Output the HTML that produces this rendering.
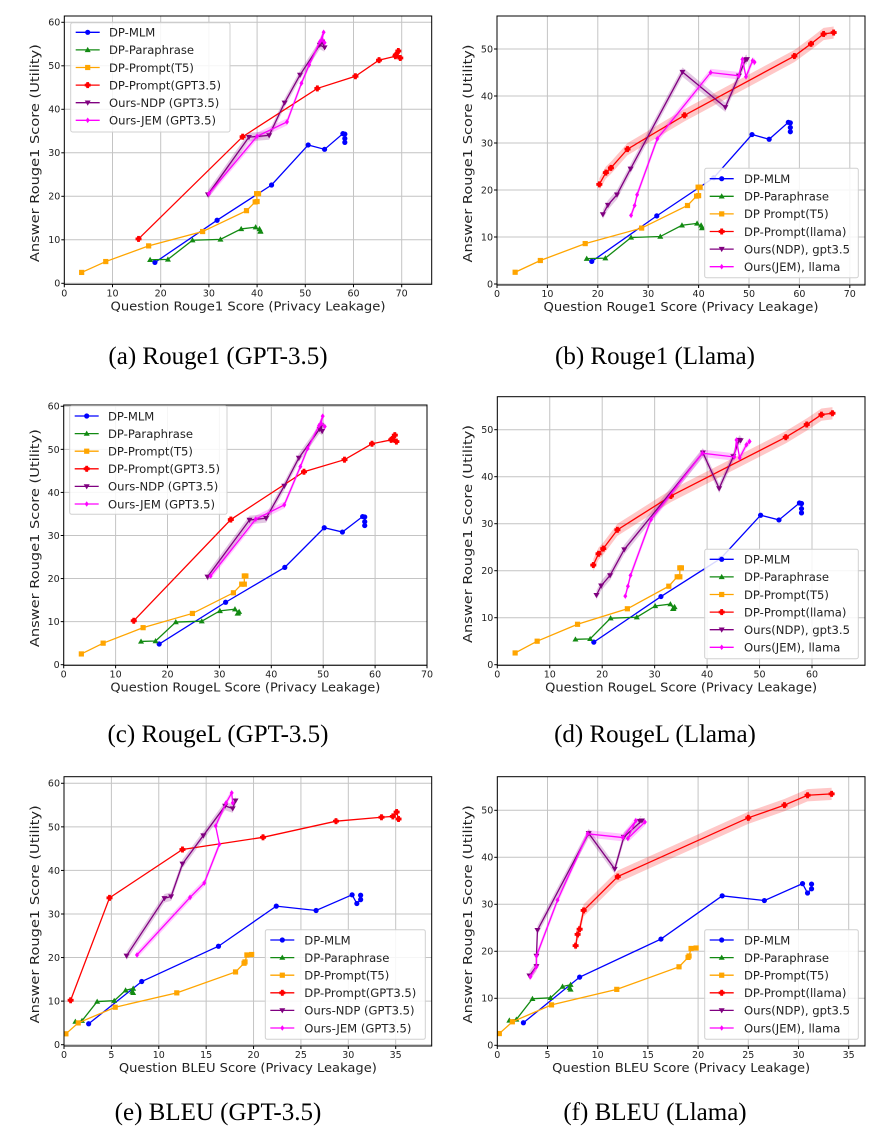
<!DOCTYPE html>
<html><head><meta charset="utf-8">
<style>
html,body{margin:0;padding:0;background:#fff;}
svg{display:block;}
</style></head>
<body>
<svg id="s" width="876" height="1141" xmlns="http://www.w3.org/2000/svg" font-family="'DejaVu Sans','Liberation Sans',sans-serif">
<text x="218" y="364" font-family="'Liberation Serif',serif" font-size="25" text-anchor="middle">(a) Rouge1 (GPT-3.5)</text>
<text x="655" y="364" font-family="'Liberation Serif',serif" font-size="25" text-anchor="middle">(b) Rouge1 (Llama)</text>
<text x="218" y="742" font-family="'Liberation Serif',serif" font-size="25" text-anchor="middle">(c) RougeL (GPT-3.5)</text>
<text x="655" y="742" font-family="'Liberation Serif',serif" font-size="25" text-anchor="middle">(d) RougeL (Llama)</text>
<text x="218" y="1120" font-family="'Liberation Serif',serif" font-size="25" text-anchor="middle">(e) BLEU (GPT-3.5)</text>
<text x="655" y="1120" font-family="'Liberation Serif',serif" font-size="25" text-anchor="middle">(f) BLEU (Llama)</text>
</svg>
<script>
var NS="http://www.w3.org/2000/svg",S=document.getElementById('s');
function el(t,a,p){var e=document.createElementNS(NS,t);for(var k in a)e.setAttribute(k,a[k]);(p||S).appendChild(e);return e;}
var C={b:'#0000ff',g:'#128a12',o:'#ffa500',r:'#ff0000',p:'#800080',m:'#ff00ff'};
function marker(g,type,x,y,c){
 var r=2.6;
 if(type=='o')el('circle',{cx:x,cy:y,r:r,fill:c},g);
 else if(type=='^')el('polygon',{points:(x)+','+(y-3)+' '+(x-3)+','+(y+2.2)+' '+(x+3)+','+(y+2.2),fill:c},g);
 else if(type=='v')el('polygon',{points:(x)+','+(y+3)+' '+(x-3)+','+(y-2.2)+' '+(x+3)+','+(y-2.2),fill:c},g);
 else if(type=='s')el('rect',{x:x-2.6,y:y-2.6,width:5.2,height:5.2,fill:c},g);
 else if(type=='P'){el('rect',{x:x-3,y:y-1.4,width:6,height:2.8,fill:c},g);el('rect',{x:x-1.4,y:y-3,width:2.8,height:6,fill:c},g);el('circle',{cx:x,cy:y,r:2.3,fill:c},g);}
 else if(type=='*')el('polygon',{points:x+','+(y-2.8)+' '+(x+2)+','+y+' '+x+','+(y+2.8)+' '+(x-2)+','+y,fill:c},g);
}
var id=0;
function panel(P){
 id++;
 var L=P.box[0],T=P.box[1],R=P.box[2],B=P.box[3];
 function X(v){return P.x0+v*P.sx;} function Y(v){return P.y0-v*P.sy;}
 var cp=el('clipPath',{id:'c'+id});el('rect',{x:L,y:T,width:R-L,height:B-T},cp);
 var g=el('g',{'clip-path':'url(#c'+id+')'});
 P.xt.forEach(function(v){el('line',{x1:X(v),x2:X(v),y1:T,y2:B,stroke:'#c4c4c4','stroke-width':1},g);});
 P.yt.forEach(function(v){el('line',{x1:L,x2:R,y1:Y(v),y2:Y(v),stroke:'#c4c4c4','stroke-width':1},g);});
 P.series.forEach(function(s){
  if(s.band){
   var up=s.d.map(function(p){return X(p[0])+','+Y(p[1]+s.band);});
   var dn=s.d.slice().reverse().map(function(p){return X(p[0])+','+Y(p[1]-s.band);});
   el('polygon',{points:up.concat(dn).join(' '),fill:s.c,'fill-opacity':0.22},g);
  }
 });
 P.series.forEach(function(s){
  el('polyline',{points:s.d.map(function(p){return X(p[0])+','+Y(p[1]);}).join(' '),fill:'none',stroke:s.c,'stroke-width':1.3},g);
  s.d.forEach(function(p){marker(g,s.m,X(p[0]),Y(p[1]),s.c);});
 });
 el('rect',{x:L,y:T,width:R-L,height:B-T,fill:'none',stroke:'#000','stroke-width':1});
 P.xt.forEach(function(v){el('line',{x1:X(v),x2:X(v),y1:B,y2:B+3,stroke:'#000'});var t=el('text',{x:X(v),y:B+12,'font-size':9.5,'text-anchor':'middle',fill:'#222'});t.textContent=v;});
 P.yt.forEach(function(v){el('line',{x1:L-3,x2:L,y1:Y(v),y2:Y(v),stroke:'#000'});var t=el('text',{x:L-4,y:Y(v)+3.4,'font-size':9.5,'text-anchor':'end',fill:'#222'});t.textContent=v;});
 var t=el('text',{x:(L+R)/2,y:B+26,'font-size':12.5,'text-anchor':'middle',fill:'#222',textLength:P.xlw,lengthAdjust:'spacingAndGlyphs'});t.textContent=P.xl;
 var cy=(T+B)/2+3,cx=P.ylx;
 t=el('text',{x:cx,y:cy,'font-size':12.5,'text-anchor':'middle',fill:'#222',transform:'rotate(-90 '+cx+' '+(cy)+')',textLength:218,lengthAdjust:'spacingAndGlyphs'});t.textContent='Answer Rouge1 Score (Utility)';
 var lg=P.lg;
 el('rect',{x:lg[0],y:lg[1],width:lg[2],height:lg[3],fill:'#fff','fill-opacity':0.85,stroke:'#d0d0d0',rx:2});
 P.series.forEach(function(s,i){
  var yy=lg[4]+i*17.6,lx=lg[0]+5;
  el('line',{x1:lx,x2:lx+24,y1:yy,y2:yy,stroke:s.c,'stroke-width':1.3});
  marker(S,s.m,lx+12,yy,s.c);
  var tt=el('text',{x:lg[5],y:yy+4.3,'font-size':11.6,fill:'#222'});tt.textContent=s.n;
 });
}
var MLM_R=[[18.8,4.8],[31.7,14.5],[43,22.6],[50.6,31.8],[54,30.8],[57.8,34.4],[58.2,34.3],[58.2,33.3],[58.2,32.4]];
var PARA_R=[[17.8,5.4],[21.5,5.5],[26.6,9.9],[32.4,10.1],[36.7,12.5],[39.7,12.9],[40.7,12],[40.5,12.5],[40.7,11.9]];
var T5_R=[[3.6,2.5],[8.6,5],[17.5,8.6],[28.7,11.9],[37.8,16.7],[39.6,18.7],[40,18.8],[39.9,20.6],[40.3,20.6]];
var MLM_L=[[18.4,4.8],[31.2,14.5],[42.6,22.6],[50.2,31.8],[53.7,30.8],[57.6,34.4],[58,34.3],[58,33.2],[58,32.3]];
var PARA_L=[[14.9,5.4],[17.7,5.5],[21.6,9.9],[26.6,10.1],[30.1,12.5],[33,12.9],[33.6,12],[33.8,12.3],[33.5,11.9]];
var T5_L=[[3.4,2.5],[7.6,5],[15.3,8.6],[24.8,11.9],[32.7,16.7],[34.3,18.7],[34.8,18.7],[34.8,20.6],[35.1,20.6]];
var MLM_B=[[2.6,4.8],[8.2,14.5],[16.3,22.6],[22.4,31.8],[26.6,30.8],[30.4,34.4],[30.9,32.4],[31.3,33.3],[31.3,34.3]];
var PARA_B=[[1.2,5.3],[1.9,5.5],[3.5,9.9],[5.3,10.1],[6.5,12.5],[7.3,12.9],[7.3,11.9],[7.2,12.2]];
var T5_B=[[0.2,2.5],[1.5,5],[5.4,8.6],[11.9,11.9],[18.1,16.7],[19,18.7],[19.1,19],[19.3,20.6],[19.8,20.7]];
function std(mlm,para,t5,red,ndp,jem,llama){
 return [
 {n:'DP-MLM',c:C.b,m:'o',d:mlm},
 {n:'DP-Paraphrase',c:C.g,m:'^',d:para},
 {n:llama?'DP Prompt(T5)':'DP-Prompt(T5)',c:C.o,m:'s',d:t5},
 {n:llama?'DP-Prompt(llama)':'DP-Prompt(GPT3.5)',c:C.r,m:'P',d:red,band:llama?1.3:0},
 {n:llama?'Ours(NDP), gpt3.5':'Ours-NDP (GPT3.5)',c:C.p,m:'v',d:ndp,band:1},
 {n:llama?'Ours(JEM), llama':'Ours-JEM (GPT3.5)',c:C.m,m:'*',d:jem,band:0.8}];
}
var r7=[0,10,20,30,40,50,60,70],y6=[0,10,20,30,40,50,60],y5=[0,10,20,30,40,50];
panel({box:[64.3,16,431.7,284.3],x0:64.3,sx:4.82,y0:283.3,sy:4.35,xt:r7,yt:y6,xl:'Question Rouge1 Score (Privacy Leakage)',xlw:275,ylx:39,lg:[70.7,22.7,159.3,109.3,32.3,109],
 series:std(MLM_R,PARA_R,T5_R,
 [[15.4,10.2],[37,33.7],[52.5,44.8],[60.4,47.6],[65.3,51.3],[68.7,52.2],[69.3,53.4],[68.8,52.5],[69.7,51.8]],
 [[29.8,20.4],[38.3,33.6],[42.5,34],[45.7,41.5],[48.9,47.9],[53,54.8],[54,54.2],[53.5,55.5]],
 [[30,20.6],[40,33.8],[46.2,37.1],[49.2,46],[50.8,50.2],[53,55.5],[53.8,57.7],[53.5,56],[54,55.3]],false)});
var s2=std(MLM_R,PARA_R,T5_R,
 [[20.3,21.2],[21.6,23.7],[22.6,24.7],[25.9,28.7],[37.2,35.9],[59,48.5],[62.3,51.1],[64.8,53.2],[66.8,53.5]],
 [[21,14.8],[22,16.8],[23.8,19],[26.5,24.5],[36.8,45.1],[45.3,37.6],[48,44.3],[49.3,47.7],[49.6,47.8]],
 [[26.6,14.6],[27.3,16.7],[27.8,19],[31.8,30.9],[42.4,45],[48,44.3],[48.7,47.8],[49.4,44.1],[50.7,47.5],[51.1,47.2]],true);
panel({box:[497,16,865,285],x0:497,sx:5.04,y0:284,sy:4.7,xt:r7,yt:y5,xl:'Question Rouge1 Score (Privacy Leakage)',xlw:275,ylx:472,lg:[704.7,168.3,153.6,109.4,178.7,744],series:s2});
panel({box:[63.7,405,427,665.3],x0:63.7,sx:5.19,y0:664.7,sy:4.307,xt:r7,yt:y6,xl:'Question RougeL Score (Privacy Leakage)',xlw:270,ylx:39,lg:[69.7,405.7,157.3,108.6,416,108],
 series:std(MLM_L,PARA_L,T5_L,
 [[13.5,10.2],[32.2,33.7],[46.3,44.8],[54.1,47.6],[59.4,51.3],[63.1,52.2],[63.8,53.3],[63.3,52.4],[64.1,51.8]],
 [[27.7,20.4],[35.8,33.6],[39,34],[42.5,41.5],[45.3,48],[49.3,54.7],[49.8,54.2],[49.6,55.5]],
 [[28.3,20.6],[37,33.8],[42.5,37.1],[45.6,46],[47,50.2],[49.2,55.5],[49.9,57.7],[49.6,56],[50.3,55.3]],false)});
var s4=std(MLM_L,PARA_L,T5_L,
 [[18.3,21.2],[19.3,23.6],[20.2,24.7],[22.9,28.7],[33.1,35.9],[55,48.4],[59,51.1],[61.8,53.2],[63.9,53.5]],
 [[18.9,14.8],[19.8,16.8],[21.5,19],[24.2,24.5],[39.2,45.1],[42.3,37.5],[45,44.3],[46.1,47.8],[46.4,47.7]],
 [[24.4,14.6],[24.9,16.7],[25.4,19],[29.3,30.9],[39.1,45],[45.2,44.2],[45.6,47.8],[46.2,44],[47.5,46.8],[48.1,47.5]],true);
s4[2].n='DP-Prompt(T5)';
panel({box:[497.3,396.7,865,665.3],x0:497.3,sx:5.245,y0:664.7,sy:4.7,xt:[0,10,20,30,40,50,60],yt:y5,xl:'Question RougeL Score (Privacy Leakage)',xlw:272,ylx:472,lg:[704.7,549.3,153.6,109.4,559.3,744],series:s4});
var b7=[0,5,10,15,20,25,30,35];
panel({box:[64,776.7,431.7,1046],x0:64,sx:9.477,y0:1044.7,sy:4.357,xt:b7,yt:y6,xl:'Question BLEU Score (Privacy Leakage)',xlw:258,ylx:39,lg:[265.3,929.7,160,109.6,940,304.3],
 series:std(MLM_B,PARA_B,T5_B,
 [[0.7,10.2],[4.8,33.7],[12.5,44.8],[21,47.6],[28.7,51.3],[33.5,52.2],[34.7,52.4],[35.1,53.4],[35.3,51.8]],
 [[6.6,20.4],[10.6,33.6],[11.3,34],[12.5,41.5],[14.7,48],[17,54.8],[17.8,54.2],[18.1,56]],
 [[7.7,20.6],[13.3,33.8],[14.8,37.1],[16.4,46],[16,50.2],[17.1,55.5],[17.7,57.8],[17.8,55.5]],false)});
var s6=std(MLM_B,PARA_B,T5_B,
 [[7.8,21.2],[8,23.6],[8.2,24.7],[8.6,28.7],[12,35.9],[25,48.4],[28.6,51.1],[30.9,53.2],[33.3,53.5]],
 [[3.2,14.8],[3.9,16.8],[3.9,19],[4,24.5],[9.1,45.1],[11.7,37.5],[12.6,44.3],[14.4,47.8],[14.2,47.7]],
 [[3.3,14.6],[3.9,16.7],[3.9,19],[6,30.9],[9,45],[12.5,44.2],[13.8,47.8],[13,44],[14.7,47.5]],true);
s6[2].n='DP-Prompt(T5)';
panel({box:[497.3,776.7,865,1046],x0:497.3,sx:10.04,y0:1045.3,sy:4.7,xt:b7,yt:y5,xl:'Question BLEU Score (Privacy Leakage)',xlw:258,ylx:472,lg:[704.7,929.7,153.6,109.6,940,744],series:s6});
</script>
</body></html>
